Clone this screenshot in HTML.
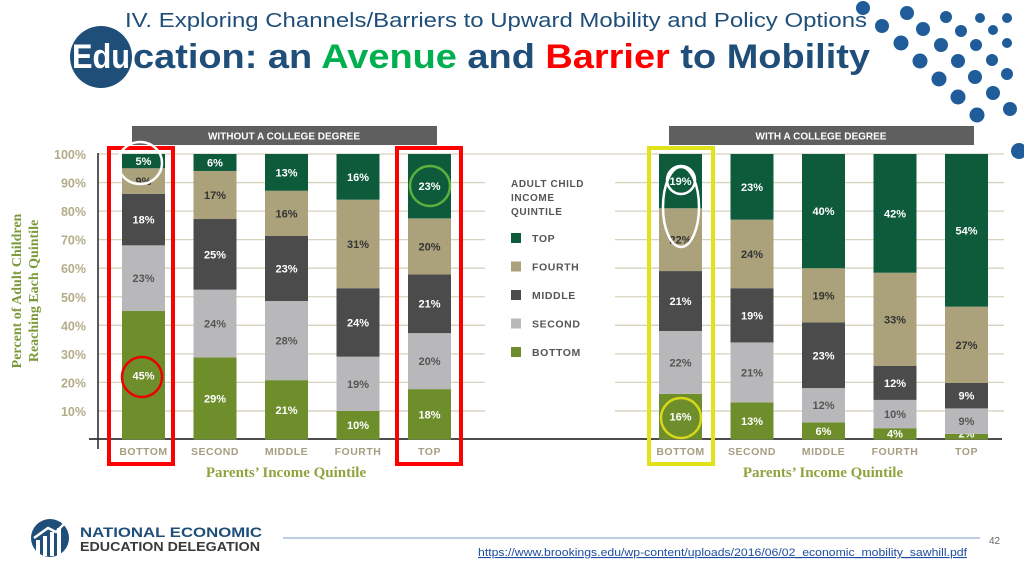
<!DOCTYPE html>
<html><head><meta charset="utf-8"><style>
html,body{margin:0;padding:0;background:#fff;width:1024px;height:576px;overflow:hidden}
svg{display:block}
</style></head><body>
<svg id="slide" width="1024" height="576" viewBox="0 0 1024 576" xmlns="http://www.w3.org/2000/svg">
<g id="header">
  <text x="125" y="27" font-family="'Liberation Sans Narrow','Liberation Sans',sans-serif" font-size="20" fill="#1f4e79" textLength="742" lengthAdjust="spacingAndGlyphs">IV. Exploring Channels/Barriers to Upward Mobility and Policy Options</text>
  <circle cx="101" cy="57" r="31" fill="#1f4e79"/>
  <text x="72" y="68" font-family="'Liberation Sans Narrow','Liberation Sans',sans-serif" font-size="34" font-weight="bold" fill="#fff" textLength="58" lengthAdjust="spacingAndGlyphs">Edu</text>
  <text x="133" y="68" font-family="'Liberation Sans Narrow','Liberation Sans',sans-serif" font-size="34" font-weight="bold" fill="#1f4e79" textLength="737" lengthAdjust="spacingAndGlyphs">cation: an <tspan fill="#00b050">Avenue</tspan> and <tspan fill="#ff0000">Barrier</tspan> to Mobility</text>
  <g id="dots" fill="#1f5c99"></g>
</g>
<g id="charts"></g>
<g id="footer">
  <g>
    <circle cx="50" cy="538" r="19" fill="#1f4e79"/>
    <path d="M36 556 L36 540 L40 540 L40 556 Z M43 556 L43 536 L47 536 L47 556 Z M50 556 L50 532 L54 532 L54 556 Z M57 556 L57 528 L61 528 L61 556Z" fill="#fff"/>
    <path d="M34 538 L48 528 L56 532 L68 520" stroke="#fff" stroke-width="2.5" fill="none"/>
  </g>
  <text x="80" y="537" font-family="'Liberation Sans',sans-serif" font-weight="bold" font-size="14" fill="#1f4e79" textLength="182" lengthAdjust="spacingAndGlyphs">NATIONAL ECONOMIC</text>
  <text x="80" y="551" font-family="'Liberation Sans',sans-serif" font-weight="bold" font-size="13" fill="#3a3a3a" textLength="180" lengthAdjust="spacingAndGlyphs">EDUCATION DELEGATION</text>
  <line x1="283" y1="538" x2="980" y2="538" stroke="#7a9cc0" stroke-width="1"/>
  <text x="989" y="544" font-family="'Liberation Sans Narrow','Liberation Sans',sans-serif" font-size="10" fill="#666">42</text>
  <text x="478" y="556" font-family="'Liberation Sans Narrow','Liberation Sans',sans-serif" font-size="11" fill="#1f4ea0" text-decoration="underline" textLength="489" lengthAdjust="spacingAndGlyphs">https://www.brookings.edu/wp-content/uploads/2016/06/02_economic_mobility_sawhill.pdf</text>
</g>
</svg>
<script>
const NS='http://www.w3.org/2000/svg';
const parentQuintiles=['BOTTOM','SECOND','MIDDLE','FOURTH','TOP'];
const childQuintiles=['BOTTOM','SECOND','MIDDLE','FOURTH','TOP'];
// values bottom->top per parent quintile
const withoutDegree=[[45,23,18,9,5],[29,24,25,17,6],[21,28,23,16,13],[10,19,24,31,16],[18,20,21,20,23]];
const withDegree=[[16,22,21,22,19],[13,21,19,24,23],[6,12,23,19,40],[4,10,12,33,42],[2,9,9,27,54]];
const yTicks=[10,20,30,40,50,60,70,80,90,100];
const colors=['#6e8d2b','#b8b8ba','#4b4b4b','#aba27c','#0d5b3b'];
const textColors=['#fff','#555','#fff','#333','#fff'];

function el(tag,attrs,parent){const e=document.createElementNS(NS,tag);for(const k in attrs)e.setAttribute(k,attrs[k]);parent.appendChild(e);return e;}
const y0=439.5, yScale=2.855;
const yPos=v=>y0-v*yScale;
const charts=document.getElementById('charts');

// decorative dots
const dotsG=document.getElementById('dots');
[[863,8,7],[882,26,7],[907,13,7],[923,29,7],[946,17,6],[961,31,6],[980,18,5],[993,30,5],[1007,18,5],[901,43,7.5],[941,45,7],[976,45,6],[1007,43,5],[920,61,7.5],[958,61,7],[992,60,6],[1007,74,6],[939,79,7.5],[975,77,7],[958,97,7.5],[993,93,7],[977,115,7.5],[1010,109,7],[1019,151,8]].forEach(p=>{
  const c=el('circle',{cx:p[0],cy:p[1],r:p[2]},dotsG);
  
  
});

// gridlines
const grid=el('g',{},charts);


yTicks.forEach(t=>{
  const y=yPos(t);
  const l1=el('line',{x1:98,x2:t===100?500:485,y1:y,y2:y,stroke:'#d6d2bd','stroke-width':1.3},grid);
  
  
  const l2=el('line',{x1:t===100?500:615,x2:1004,y1:y,y2:y,stroke:'#d6d2bd','stroke-width':1.3},grid);
  
  
  const tl=el('text',{x:86,y:y+5,'text-anchor':'end','font-family':"'Liberation Sans',sans-serif",'font-weight':'bold','font-size':12.5,fill:'#b4ac88'},charts);
  
  
  tl.textContent=t+'%';
});
const yAxis=el('line',{x1:98,x2:98,y1:153,y2:449,stroke:'#222','stroke-width':1.5},charts);


const base=el('line',{x1:89,x2:1002,y1:439,y2:439,stroke:'#333','stroke-width':1.8},charts);



const yt=el('text',{transform:'translate(21,291) rotate(-90)','text-anchor':'middle','font-family':"'Liberation Serif',serif",'font-weight':'bold','font-size':14,fill:'#7b9a3a'},charts);


const t1=el('tspan',{x:0,y:0},yt);t1.textContent='Percent of Adult Children';
const t2=el('tspan',{x:0,y:17},yt);t2.textContent='Reaching Each Quintile';

function drawChart(data,x0,title,hx,name){
  const g=el('g',{},charts);
  
  
  const hb=el('rect',{x:hx,y:126,width:305,height:19,fill:'#5f5f5f'},g);
  
  
  const ht=el('text',{x:hx+152,y:139.5,'text-anchor':'middle','font-family':"'Liberation Sans',sans-serif",'font-weight':'bold','font-size':10,fill:'#fff'},g);
  
  
  ht.textContent=title;
  data.forEach((vals,i)=>{
    const bx=x0+i*71.5, bw=43;
    const sum=vals.reduce((a,b)=>a+b,0);
    let acc=0;
    vals.forEach((v,j)=>{
      const h=v/sum*100;
      const ya=yPos(acc+h), yb=yPos(acc);
      const r=el('rect',{x:bx,y:ya,width:bw,height:yb-ya,fill:colors[j]},g);
      
      
      const lt=el('text',{x:bx+bw/2,y:Math.min((ya+yb)/2+4,yb-2),'text-anchor':'middle','font-family':"'Liberation Sans',sans-serif",'font-weight':'bold','font-size':11,fill:textColors[j]},g);
      
      
      lt.textContent=v+'%';
      acc+=h;
    });
    const xl=el('text',{x:bx+bw/2,y:455,'text-anchor':'middle','font-family':"'Liberation Sans',sans-serif",'font-weight':'bold','font-size':10.5,fill:'#a59e80','letter-spacing':'0.5'},g);
    
    
    xl.textContent=parentQuintiles[i];
  });
  const xt=el('text',{x:x0+2*71.5+21,y:477,'text-anchor':'middle','font-family':"'Liberation Serif',serif",'font-weight':'bold','font-size':15,fill:'#8ea43f'},g);
  
  
  xt.textContent='Parents\u2019 Income Quintile';
}
drawChart(withoutDegree,122,'WITHOUT A COLLEGE DEGREE',132,'chart-without-degree');
drawChart(withDegree,659,'WITH A COLLEGE DEGREE',669,'chart-with-degree');

// legend
const lg=el('g',{'font-family':"'Liberation Sans',sans-serif",'font-weight':'bold',fill:'#555'},charts);


['ADULT CHILD','INCOME','QUINTILE'].forEach((s,i)=>{
  const t=el('text',{x:511,y:187+i*14,'font-size':10,'letter-spacing':'0.6'},lg);
  
  
  t.textContent=s;
});
const legendOrder=[4,3,2,1,0];
legendOrder.forEach((j,k)=>{
  const y=238+k*28.5;
  const sq=el('rect',{x:511,y:y-5,width:10,height:10,fill:colors[j]},lg);
  
  
  const t=el('text',{x:532,y:y+4,'font-size':10.5,'letter-spacing':'0.6'},lg);
  
  
  t.textContent=childQuintiles[j];
});

// annotations
const an=el('g',{fill:'none'},charts);


[[107,146,68,320,'#ff0000','highlight-box-bottom'],[395,146,68,320,'#ff0000','highlight-box-top'],[647,146,68,320,'#e2e21a','highlight-box-college-bottom']].forEach(b=>{
  const r=el('rect',{x:b[0]+2,y:b[1]+2,width:b[2]-4,height:b[3]-4,stroke:b[4],'stroke-width':4},an);
  
  
});
[[140,163,22,21,'#fff','circle-5-9'],[142,377,20,20,'#e00','circle-45'],[430,186,20,20,'#5cae3e','circle-23'],[681,180,14,14,'#fff','circle-19'],[681,207,18,40,'#fff','ellipse-19-22'],[681,418,20,20,'#d8d81a','circle-16']].forEach(c=>{
  const e=el('ellipse',{cx:c[0],cy:c[1],rx:c[2],ry:c[3],stroke:c[4],'stroke-width':2.5},an);
  
  
});
</script>
</body></html>
